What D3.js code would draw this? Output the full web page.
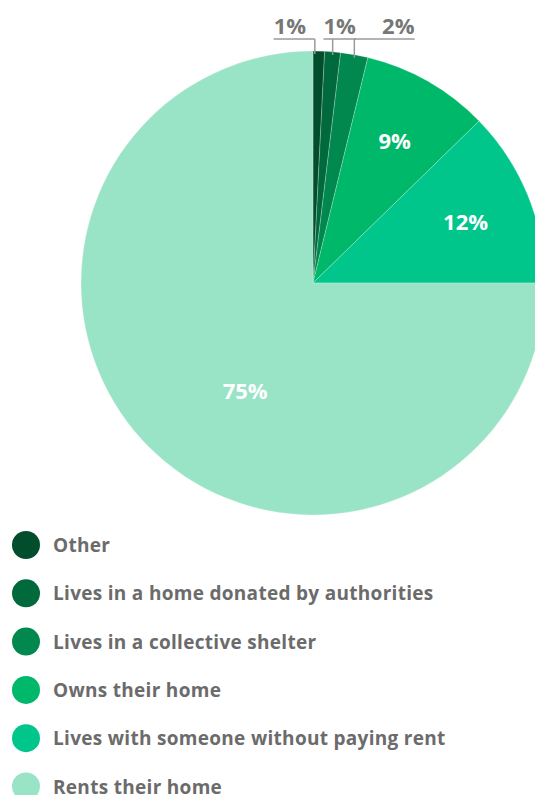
<!DOCTYPE html>
<html><head><meta charset="utf-8">
<script src="https://cdn.jsdelivr.net/npm/d3@7"></script>
<style>
html,body{margin:0;padding:0;background:#fff;overflow:hidden}
svg{display:block}
text{font-family:"Open Sans",Lato,sans-serif;font-weight:700}
</style></head><body>
<svg id="chart" width="535" height="795"></svg>
<script>
const categories = ["Other","Lives in a home donated by authorities","Lives in a collective shelter","Owns their home","Lives with someone without paying rent","Rents their home"];
const values = [0.8, 1.1, 1.9, 8.9, 12.3, 75.0];
const valueLabels = ["1%","1%","2%","9%","12%","75%"];
const colors = ["#024d2b","#006a3d","#00884f","#00b86a","#00c68c","#99e3c6"];

const W = 535, H = 795;
const cx = 313, cy = 283, R = 232;
const svg = d3.select("#chart");

const pie = d3.pie().sort(null).value(d => d.v);
const data = categories.map((c,i)=>({c, v:values[i], l:valueLabels[i], col:colors[i]}));
const arcs = pie(data);
const arc = d3.arc().innerRadius(0).outerRadius(R);

const g = svg.append("g").attr("transform",`translate(${cx},${cy})`);
g.selectAll("path").data(arcs).enter().append("path")
  .attr("d", arc).attr("fill", d=>d.data.col)
  .attr("stroke","#ffffff").attr("stroke-width",0.4).attr("stroke-opacity",0.6);

// inside labels (large slices)
const labelArc = d3.arc().innerRadius(R*0.71).outerRadius(R*0.71);
arcs.forEach((a,i)=>{
  if (a.data.v < 5) return;
  let p;
  if (a.data.v > 50) {
    const ang = a.startAngle + (a.endAngle-a.startAngle)*0.453;
    const r = R*0.547;
    p = [r*Math.sin(ang), -r*Math.cos(ang)];
  } else p = labelArc.centroid(a);
  g.append("text").attr("x",p[0]).attr("y",p[1])
    .attr("text-anchor","middle").attr("dominant-baseline","central")
    .attr("fill","#ffffff").attr("font-size",22).text(a.data.l);
});

// outside labels (small slices) with leader lines
const smallOffsets = [-25, 7, 44]; // text centre offset from leader x
const lineY = -244, textY = -249;
let k = 0;
arcs.forEach((a,i)=>{
  if (a.data.v >= 5) return;
  const mid = (a.startAngle+a.endAngle)/2;
  const vx = R*Math.sin(mid) - (k===0?4:0);
  const vy = -R*Math.cos(mid);
  const tx = vx + smallOffsets[k];
  const t = g.append("text").attr("x",tx).attr("y",textY)
    .attr("text-anchor","middle").attr("fill","#777777").attr("font-size",22).text(a.data.l);
  const bb = t.node().getBBox();
  const x0 = Math.min(bb.x, vx), x1 = Math.max(bb.x+bb.width, vx);
  g.append("line").attr("x1",x0).attr("x2",x1).attr("y1",lineY).attr("y2",lineY)
    .attr("stroke","#9a9a9a").attr("stroke-width",1.5);
  g.append("line").attr("x1",vx).attr("x2",vx).attr("y1",lineY).attr("y2",vy+3)
    .attr("stroke","#9a9a9a").attr("stroke-width",1.5);
  k++;
});

// legend
const legendY0 = 545, legendStep = 48.3;
const lg = svg.append("g");
data.forEach((d,i)=>{
  const y = legendY0 + i*legendStep;
  lg.append("circle").attr("cx",26).attr("cy",y).attr("r",14).attr("fill",d.col);
  lg.append("text").attr("x",53).attr("y",y).attr("dominant-baseline","central")
    .attr("fill","#6b6b6b").attr("font-size",19).attr("letter-spacing",0.3).text(d.c);
});
</script>
</body></html>
